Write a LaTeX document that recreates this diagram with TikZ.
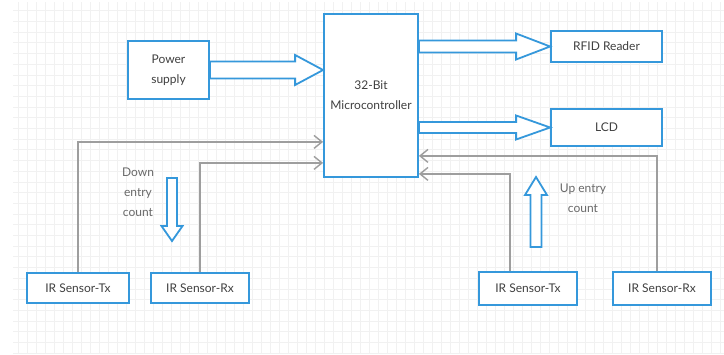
\documentclass[tikz,border=0pt]{standalone}
\usepackage{fontspec}
\setmainfont{Lato}
\usetikzlibrary{positioning,calc,arrows.meta}
\definecolor{boxblue}{RGB}{53,152,219}
\definecolor{wiregray}{RGB}{158,158,158}
\definecolor{labelgray}{RGB}{64,64,64}
\definecolor{notegray}{RGB}{105,105,105}
\definecolor{gridgray}{RGB}{241,241,241}
% hollow block arrow: tail, tip, shaft half width, head half width, head length
\newcommand\fatarrow[5]{
  \coordinate (fa-base) at ($(#2)!#5!(#1)$);
  \draw[fatline] ($(#1)!#3!90:(#2)$) -- ($(fa-base)!#3!-90:(#1)$)
    -- ($(fa-base)!#4!-90:(#1)$) -- (#2) -- ($(fa-base)!#4!90:(#1)$)
    -- ($(fa-base)!#3!90:(#1)$) -- ($(#1)!#3!-90:(#2)$) -- cycle;
}

\begin{document}
\begin{tikzpicture}[x=1pt,y=-1pt,
font={\fontsize{12}{20}\selectfont\color{labelgray}},
blockbox/.style={
  draw=boxblue,
  fill=white,
  line width=1.8pt,
  align=center,
  inner sep=0pt},
fatline/.style={draw=boxblue,fill=white,line width=1.8pt,line join=miter},
wire/.style={draw=wiregray,line width=1.6pt,-{Straight Barb[length=8pt,width=13pt,line width=1.4pt]}},
note/.style={align=center,text=notegray},
]
\useasboundingbox[fill=white] (0,0) rectangle (724,354);
% faint background grid
\draw[gridgray,line width=0.8pt,xstep=9pt,ystep=10.7pt] (13,2) grid (724,354);

\node[blockbox,minimum width=94pt,minimum height=163pt] (mcu) at (371,95.5) {32-Bit\\Microcontroller};
\node[blockbox,minimum width=81pt,minimum height=58pt] (power) at (168.5,70) {Power\\supply};
\node[blockbox,minimum width=111pt,minimum height=31pt] (rfid) at (606.5,46.5) {RFID Reader};
\node[blockbox,minimum width=111pt,minimum height=37pt] (lcd) at (606.5,127.5) {LCD};

\node[blockbox,minimum width=102pt,minimum height=30pt] (txleft) at (78,288) {IR Sensor-Tx};
\node[blockbox,minimum width=98pt,minimum height=30pt] (rxleft) at (200,288) {IR Sensor-Rx};
\node[blockbox,minimum width=98pt,minimum height=33pt] (txright) at (528,288.5) {IR Sensor-Tx};
\node[blockbox,minimum width=98pt,minimum height=33pt] (rxright) at (662,288.5) {IR Sensor-Rx};

\node[note] (downnote) at (138,192) {Down\\entry\\count};
\node[note] (upnote) at (583,198) {Up entry\\count};

% block arrows
\coordinate (mcuin) at (mcu.west |- power.east);
\coordinate (rfidout) at (mcu.east |- rfid.west);
\coordinate (lcdout) at (mcu.east |- lcd.west);
\fatarrow{power.east}{mcuin}{8.5pt}{15pt}{28pt}
\fatarrow{rfidout}{rfid.west}{6pt}{13pt}{34pt}
\fatarrow{lcdout}{lcd.west}{5.5pt}{12pt}{34pt}

\coordinate (downtop) at (172,178);
\coordinate (downtip) at (172,241);
\coordinate (upbottom) at (536,247);
\coordinate (uptip) at (536,177);
\fatarrow{downtop}{downtip}{5pt}{10.5pt}{15pt}
\fatarrow{upbottom}{uptip}{5.5pt}{11pt}{18pt}

% sensor wires
\draw[wire] (txleft.north) |- ([yshift=36pt]mcu.south west);
\draw[wire] (rxleft.north) |- ([yshift=15pt]mcu.south west);
\draw[wire] ([xshift=-5pt]rxright.north) |- ([yshift=22pt]mcu.south east);
\draw[wire] ([xshift=-18pt]txright.north) |- ([yshift=4pt]mcu.south east);
\end{tikzpicture}
\end{document}
